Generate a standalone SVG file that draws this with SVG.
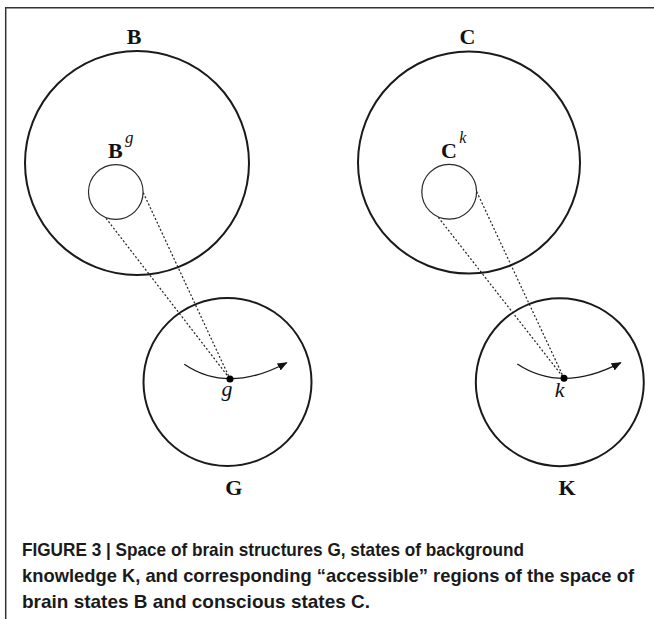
<svg xmlns="http://www.w3.org/2000/svg" width="654" height="619" viewBox="0 0 654 619">
<style>
.big{fill:none;stroke:#1a1a1a;stroke-width:2}
.small{fill:none;stroke:#2a2a2a;stroke-width:1.2}
.dash{fill:none;stroke:#222;stroke-width:1.2;stroke-dasharray:2 2}
.arc{fill:none;stroke:#1a1a1a;stroke-width:1.3}
.lbl{font-family:"Liberation Serif","Times New Roman",serif;font-weight:bold;font-size:22px;fill:#111}
.it{font-family:"Liberation Serif","Times New Roman",serif;font-style:italic;fill:#111}
.cap{font-family:"Liberation Sans",Arial,sans-serif;font-weight:bold;font-size:18.5px;fill:#1a1a1a}
.frame{fill:none;stroke:#333;stroke-width:1.5}
</style>
<defs>
<marker id="ah" viewBox="0 0 10 10" refX="9" refY="5" markerWidth="10" markerHeight="10" markerUnits="userSpaceOnUse" orient="auto">
<path d="M0,1 L10,5 L0,9 Z" fill="#111"/>
</marker>
</defs>
<rect width="654" height="619" fill="#fff"/>
<path class="frame" d="M5.7,619 V7.7 H654"/>

<g id="connectors">
<line class="dash" x1="106" y1="218.3" x2="230" y2="379"/>
<line class="dash" x1="143.3" y1="192.7" x2="230" y2="379"/>
<line class="dash" x1="438.3" y1="217.3" x2="564" y2="378.3"/>
<line class="dash" x1="476.7" y1="191.7" x2="564" y2="378.3"/>
<path class="arc" d="M184.3,364.3 Q228,394 286.7,362.7" marker-end="url(#ah)"/>
<path class="arc" d="M517.3,364 Q562,393.5 620.7,362.7" marker-end="url(#ah)"/>
</g>

<g id="B">
<circle class="big" cx="137" cy="163" r="112"/>
<text class="lbl" x="134" y="44" text-anchor="middle">B</text>
</g>
<g id="Bg">
<circle class="small" cx="115.8" cy="192" r="27.3"/>
<text class="lbl" x="108" y="158">B</text>
<text class="it" x="125" y="143" font-size="17">g</text>
</g>
<g id="G">
<circle class="big" cx="227.5" cy="382" r="84"/>
<circle cx="230" cy="379" r="3.5" fill="#000"/>
<text class="it" x="227" y="396" font-size="22" text-anchor="middle">g</text>
<text class="lbl" x="233.7" y="495" text-anchor="middle">G</text>
</g>

<g id="C">
<circle class="big" cx="469" cy="162.5" r="111"/>
<text class="lbl" x="467.5" y="44" text-anchor="middle">C</text>
</g>
<g id="Ck">
<circle class="small" cx="449.2" cy="191.7" r="27.4"/>
<text class="lbl" x="441" y="158">C</text>
<text class="it" x="459.3" y="143" font-size="16">k</text>
</g>
<g id="K">
<circle class="big" cx="559.8" cy="382.2" r="84"/>
<circle cx="564" cy="378.3" r="3.5" fill="#000"/>
<text class="it" x="559.7" y="397" font-size="22" text-anchor="middle">k</text>
<text class="lbl" x="567" y="495" text-anchor="middle">K</text>
</g>

<g id="caption">
<text class="cap" x="22" y="556" textLength="502" lengthAdjust="spacingAndGlyphs">FIGURE 3 | Space of brain structures G, states of background</text>
<text class="cap" x="22" y="582" textLength="612" lengthAdjust="spacingAndGlyphs">knowledge K, and corresponding “accessible” regions of the space of</text>
<text class="cap" x="22" y="608" textLength="348" lengthAdjust="spacingAndGlyphs">brain states B and conscious states C.</text>
</g>
</svg>
